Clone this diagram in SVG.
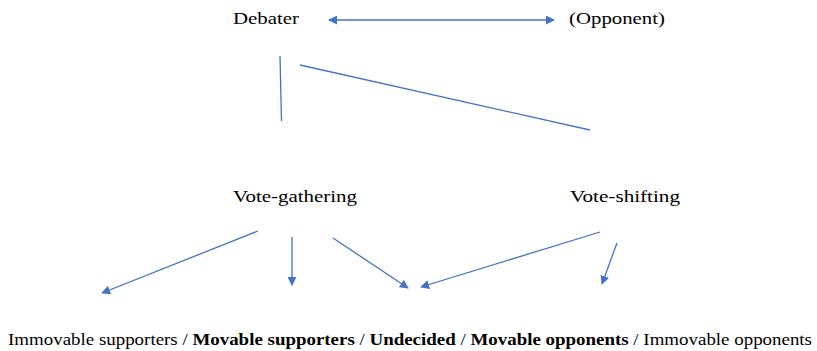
<svg xmlns="http://www.w3.org/2000/svg" width="817" height="351" viewBox="0 0 817 351">
<style>
.t{font-family:"Liberation Serif","DejaVu Serif","Times New Roman",serif;font-size:17px;fill:#000}
.c line{stroke:#4472C4;stroke-width:1.3;fill:none}
.b{font-weight:bold}
</style>
<defs>
<marker id="ah" viewBox="0 0 10 10" refX="9" refY="5" markerWidth="9" markerHeight="9" markerUnits="userSpaceOnUse" orient="auto-start-reverse"><path d="M0,0L10,5L0,10z" fill="#4472C4"/></marker>
</defs>
<rect width="817" height="351" fill="#fff"/>
<g class="t">
<g id="debater"><text x="233" y="24" textLength="66" lengthAdjust="spacingAndGlyphs">Debater</text></g>
<g id="opponent"><text x="569" y="24" textLength="96" lengthAdjust="spacingAndGlyphs">(Opponent)</text></g>
<g id="vote-gathering"><text x="233" y="202" textLength="124" lengthAdjust="spacingAndGlyphs">Vote-gathering</text></g>
<g id="vote-shifting"><text x="570" y="202" textLength="110" lengthAdjust="spacingAndGlyphs">Vote-shifting</text></g>
<g id="categories"><text x="8" y="345" textLength="804" lengthAdjust="spacingAndGlyphs">Immovable supporters / <tspan class="b">Movable supporters</tspan> / <tspan class="b">Undecided</tspan> / <tspan class="b">Movable opponents</tspan> / Immovable opponents</text></g>
</g>
<g class="c" id="connectors">
<line x1="329" y1="20" x2="554" y2="20" marker-start="url(#ah)" marker-end="url(#ah)"/>
<line x1="280" y1="56" x2="281.5" y2="121"/>
<line x1="300" y1="65" x2="590" y2="130"/>
<line x1="258" y1="231" x2="102" y2="293" marker-end="url(#ah)"/>
<line x1="292" y1="237" x2="292" y2="285" marker-end="url(#ah)"/>
<line x1="333" y1="238" x2="408" y2="288" marker-end="url(#ah)"/>
<line x1="600" y1="232" x2="421" y2="287" marker-end="url(#ah)"/>
<line x1="617" y1="243" x2="602" y2="284" marker-end="url(#ah)"/>
</g>
</svg>
